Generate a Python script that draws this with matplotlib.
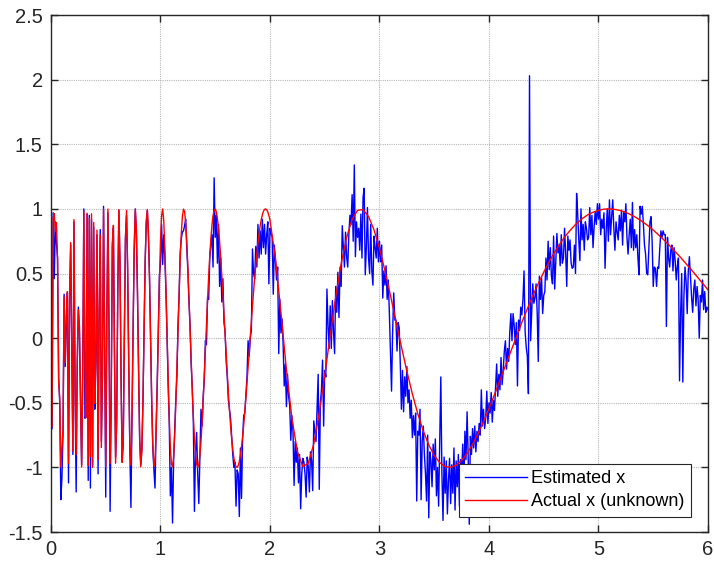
import numpy as np
import matplotlib
matplotlib.use("Agg")
import matplotlib.pyplot as plt

# actual x, sampled every 0.01 from t=0.01 to t=2.00
actual_fine = [
    -0.684, 0.930, 0.963, 0.827, 0.894, 0.604, -0.335, -0.468, -0.996, -0.851,
    -0.709, 0.319, -0.188, 0.170, 0.360, -0.971, 0.320, 0.739, -0.040, -0.873,
    0.917, -0.384, -0.902, -0.162, 0.220, 0.092, -0.474, -0.997, -0.295, 0.983,
    -0.225, -0.616, 0.966, -0.987, 0.928, -0.915, 0.962, -1.000, 0.895, -0.506,
    -0.171, 0.836, -0.941, 0.196, 0.798, -0.846, -0.280, 0.997, -0.049, -0.994,
    0.108, 0.999, 0.073, -0.970, -0.453, 0.737, 0.873, -0.149, -0.968, -0.639,
    0.389, 0.994, 0.613, -0.326, -0.962, -0.793, -0.011, 0.762, 0.989, 0.560,
    -0.209, -0.838, -0.983, -0.603, 0.074, 0.700, 0.994, 0.851, 0.359, -0.262,
    -0.772, -0.996, -0.877, -0.475, 0.065, 0.575, 0.911, 0.995, 0.820, 0.446,
    -0.026, -0.483, -0.826, -0.990, -0.953, -0.735, -0.386, 0.024, 0.423, 0.745,
    0.945, 0.999, 0.907, 0.691, 0.386, 0.037, -0.311, -0.615, -0.842, -0.973,
    -0.996, -0.916, -0.745, -0.506, -0.223, 0.075, 0.361, 0.613, 0.810, 0.941,
    0.998, 0.980, 0.893, 0.746, 0.552, 0.324, 0.080, -0.165, -0.397, -0.602,
    -0.772, -0.897, -0.974, -1.000, -0.977, -0.908, -0.797, -0.653, -0.482, -0.293,
    -0.094, 0.105, 0.298, 0.476, 0.635, 0.769, 0.874, 0.948, 0.990, 0.999,
    0.978, 0.926, 0.848, 0.746, 0.624, 0.487, 0.338, 0.183, 0.025, -0.132,
    -0.284, -0.427, -0.559, -0.676, -0.777, -0.861, -0.925, -0.970, -0.994, -1.000,
    -0.986, -0.953, -0.904, -0.840, -0.762, -0.672, -0.571, -0.463, -0.348, -0.229,
    -0.108, 0.013, 0.133, 0.249, 0.361, 0.467, 0.565, 0.655, 0.736, 0.807,
    0.867, 0.916, 0.954, 0.980, 0.996, 1.000, 0.993, 0.976, 0.949, 0.913,
]

# actual x, every 0.05 from t=2.05 to t=6.00
actual_coarse = [
    0.615, 0.197, -0.243, -0.619, -0.878, -0.994, -0.967, -0.818, -0.580, -0.288,
    0.022, 0.318, 0.576, 0.779, 0.918, 0.989, 0.995, 0.941, 0.838, 0.694,
    0.521, 0.331, 0.132, -0.066, -0.256, -0.431, -0.586, -0.719, -0.826, -0.908,
    -0.963, -0.994, -0.999, -0.983, -0.946, -0.892, -0.822, -0.739, -0.646, -0.544,
    -0.437, -0.325, -0.212, -0.099, 0.013, 0.122, 0.227, 0.328, 0.422, 0.511,
    0.592, 0.666, 0.733, 0.792, 0.843, 0.887, 0.924, 0.953, 0.974, 0.989,
    0.998, 1.000, 0.996, 0.987, 0.973, 0.953, 0.930, 0.902, 0.871, 0.836,
    0.798, 0.758, 0.715, 0.670, 0.624, 0.576, 0.527, 0.476, 0.426, 0.374,
]

# estimated x, every 0.01 from t=0.01 to t=6.00
estimated = [
    -0.70, 0.97, 0.46, 0.90, 0.73, 0.62, -0.30, -0.50, -1.25, -1.08,
    -0.74, 0.34, -0.22, 0.10, 0.35, -1.12, 0.30, 0.72, -0.08, -0.90,
    0.90, -0.42, -1.19, -0.20, 0.24, 0.05, -0.52, -0.98, -0.25, 1.00,
    -0.62, -0.60, 0.96, -1.10, 0.95, -1.16, 0.92, -0.98, 0.86, -0.55,
    -0.20, 0.80, -1.05, 0.22, 0.84, -0.80, -0.30, 1.02, -0.02, -1.23,
    0.14, 0.97, 0.05, -1.34, -0.48, 0.70, 0.85, -0.12, -0.92, -0.66,
    0.35, 0.99, 0.58, -0.30, -0.94, -0.82, 0.03, 0.78, 0.95, 0.52,
    -0.18, -0.86, -1.31, -0.58, 0.10, 0.68, 1.00, 0.80, 0.34, -0.22,
    -0.80, -0.98, -0.85, -0.50, 0.04, 0.60, 0.88, 0.99, 0.78, 0.47,
    0.00, -0.51, -0.85, -1.02, -1.16, -0.70, -0.36, 0.05, 0.48, 0.58,
    0.88, 0.57, 0.80, 0.62, 0.35, 0.02, -0.36, -0.65, -1.22, -1.00,
    -1.43, -0.95, -0.70, -0.47, -0.30, 0.10, 0.33, 0.66, 0.77, 0.82,
    0.83, 0.87, 0.92, 0.70, 0.52, 0.28, 0.10, -0.20, -0.38, -0.65,
    -1.34, -0.88, -0.73, -1.05, -1.28, -0.90, -0.55, -0.68, -0.45, -0.32,
    -0.02, -0.05, 0.32, 0.30, 0.62, 0.72, 0.80, 0.55, 1.24, 0.78,
    0.95, 0.58, 0.88, 0.40, 0.62, 0.28, 0.46, 0.12, 0.05, -0.18,
    -0.30, -0.48, -0.55, -0.62, -0.76, -0.90, -1.00, -0.96, -1.30, -1.02,
    -1.05, -1.38, -0.85, -1.24, -0.78, -0.60, -0.58, -0.44, -0.30, -0.02,
    -0.14, 0.00, 0.06, 0.69, 0.50, 0.46, 0.71, 0.55, 0.88, 0.62,
    0.83, 0.65, 0.92, 0.70, 0.88, 0.65, 0.80, 0.90, 0.42, 0.85,
    0.81, 0.78, 0.34, 0.72, 0.60, 0.45, 0.55, -0.12, 0.30, 0.04,
    0.15, -0.05, -0.37, -0.20, -0.53, -0.28, -0.45, -0.52, -0.79, -0.60,
    -0.72, -1.14, -0.80, -0.96, -0.85, -1.12, -0.90, -1.32, -1.05, -0.93,
    -0.96, -1.05, -1.23, -0.92, -1.00, -1.19, -0.88, -0.95, -1.18, -0.64,
    -0.72, -0.80, -0.55, -0.28, -1.17, -0.50, -0.40, -0.17, -0.68, -0.25,
    -0.30, 0.38, 0.10, -0.08, 0.25, -0.08, 0.29, 0.05, -0.12, 0.40,
    0.20, 0.51, 0.16, 0.55, 0.40, 0.87, 0.70, 0.55, 0.82, 0.63,
    0.55, 0.80, 0.95, 0.88, 1.11, 0.75, 1.34, 0.63, 0.90, 0.78,
    0.85, 0.68, 0.96, 0.62, 1.09, 1.16, 0.49, 0.70, 1.01, 0.62,
    0.50, 0.88, 0.52, 0.41, 0.79, 0.70, 0.62, 0.85, 0.59, 0.75,
    0.59, 0.72, 0.31, 0.52, 0.41, 0.56, 0.30, 0.45, 0.20, -0.12,
    -0.41, 0.05, 0.35, 0.14, 0.14, -0.10, 0.12, 0.08, -0.20, -0.55,
    -0.25, -0.57, -0.30, -0.45, -0.22, -0.50, -0.40, -0.62, -0.48, -0.77,
    -0.60, -0.75, -0.58, -1.26, -0.72, -0.75, -0.55, -1.25, -0.80, -0.68,
    -0.90, -1.05, -1.26, -0.75, -1.39, -0.88, -0.95, -1.15, -0.82, -1.02,
    -0.78, -1.22, -1.00, -1.30, -0.80, -0.30, -1.05, -1.41, -0.92, -1.20,
    -0.95, -1.36, -1.10, -0.93, -1.28, -0.98, -1.20, -0.85, -1.33, -0.95,
    -1.15, -0.90, -1.30, -0.94, -1.05, -0.82, -1.16, -0.72, -0.94, -0.57,
    -0.92, -1.44, -0.76, -0.90, -0.70, -0.85, -0.68, -0.88, -0.72, -0.80,
    -0.66, -0.75, -0.40, -0.68, -0.55, -0.70, -0.62, -0.41, -0.66, -0.50,
    -0.58, -0.42, -0.65, -0.48, -0.56, -0.38, -0.20, -0.45, -0.28, -0.40,
    -0.15, -0.36, -0.25, -0.10, -0.02, -0.24, -0.08, -0.18, 0.05, 0.19,
    -0.02, 0.19, 0.10, -0.05, 0.12, -0.37, 0.14, 0.06, 0.24, 0.18,
    0.30, 0.52, 0.05, -0.07, -0.14, -0.43, 2.03, -0.02, 0.19, 0.42,
    0.27, 0.31, 0.42, 0.20, -0.18, 0.48, 0.30, 0.47, 0.19, 0.33,
    0.36, 0.62, 0.45, 0.75, 0.53, 0.70, 0.48, 0.42, 0.79, 0.38,
    0.60, 0.81, 0.66, 0.72, 0.56, 0.80, 0.58, 0.62, 0.85, 0.66,
    0.40, 0.79, 0.68, 0.76, 0.58, 0.54, 0.55, 0.72, 0.50, 1.12,
    0.96, 0.76, 0.60, 1.00, 0.76, 0.88, 0.68, 0.90, 0.85, 0.76,
    0.78, 1.01, 0.80, 0.95, 0.70, 0.86, 0.98, 0.88, 1.04, 0.92,
    1.04, 0.80, 0.92, 0.85, 0.97, 0.54, 0.83, 1.00, 0.75, 1.07,
    0.80, 0.93, 1.07, 0.85, 0.68, 0.90, 0.82, 0.76, 0.95, 0.83,
    0.99, 0.72, 0.98, 0.90, 1.04, 0.78, 0.65, 0.80, 0.92, 0.70,
    1.05, 0.68, 0.84, 0.70, 0.80, 0.62, 0.49, 1.02, 0.96, 1.02,
    0.88, 0.72, 0.65, 0.50, 0.49, 0.70, 0.90, 0.94, 0.74, 0.40,
    0.55, 0.54, 0.40, 0.55, 0.54, 0.70, 0.83, 0.78, 0.83, 0.80,
    0.80, 0.09, 0.78, 0.62, 0.55, 0.68, 0.72, 0.52, 0.70, 0.60,
    0.45, 0.56, 0.62, -0.33, 0.19, 0.50, -0.34, 0.32, 0.55, 0.44,
    0.19, 0.52, 0.63, 0.48, 0.32, 0.20, 0.38, 0.45, 0.25, 0.40,
    0.30, 0.00, 0.33, 0.28, 0.45, 0.22, 0.36, 0.20, 0.24, 0.22,
]

xticks = [0, 1, 2, 3, 4, 5, 6]
yticks = [-1.5, -1, -0.5, 0, 0.5, 1, 1.5, 2, 2.5]
ytick_labels = ["-1.5", "-1", "-0.5", "0", "0.5", "1", "1.5", "2", "2.5"]
legend_labels = ["Estimated x", "Actual x (unknown)"]

plt.rcParams['font.family'] = ['Liberation Sans', 'DejaVu Sans']
plt.rcParams['axes.unicode_minus'] = False

t_est = np.arange(1, len(estimated) + 1) / 100
t_act = np.concatenate([np.arange(1, len(actual_fine) + 1) / 100,
                        2.0 + np.arange(1, len(actual_coarse) + 1) * 0.05])
actual = actual_fine + actual_coarse

fig = plt.figure(figsize=(7.14, 5.64), dpi=100)
ax = fig.add_axes([0.0714, 0.0567, 0.9202, 0.9167])

ax.plot(t_est, estimated, color=(0, 0, 1), lw=1.0, label=legend_labels[0])
ax.plot(t_act, actual, color=(1, 0, 0), lw=1.0, label=legend_labels[1])

ax.set_xlim(0, 6)
ax.set_ylim(-1.5, 2.5)
ax.set_xticks(xticks)
ax.set_yticks(yticks)
ax.set_yticklabels(ytick_labels)
ax.grid(True, color='#b8b8b8', linestyle=(0, (1, 1)), linewidth=0.8)
ax.set_axisbelow(True)
ax.tick_params(direction='in', length=5, width=1, top=True, right=True,
               labelsize=14.5, colors='#262626', pad=6)
for s in ax.spines.values():
    s.set_color('#262626')
    s.set_linewidth(1.0)

leg = ax.legend(loc='lower right', bbox_to_anchor=(0.9737, 0.0296),
                borderaxespad=0, fancybox=False, framealpha=1,
                edgecolor='#262626', fontsize=13, handlelength=3.4,
                handletextpad=0.25, labelspacing=0.35, borderpad=0.35)
leg.get_frame().set_linewidth(0.8)

fig.savefig('out.png', dpi=100)
